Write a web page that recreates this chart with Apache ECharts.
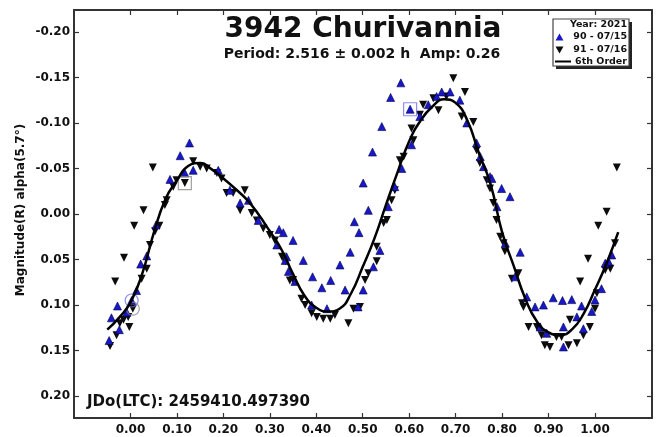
<!DOCTYPE html>
<html>
<head>
<meta charset="utf-8">
<title>3942 Churivannia</title>
<script src="https://cdn.jsdelivr.net/npm/echarts@6/dist/echarts.min.js"></script>
<style>
  html, body { margin: 0; padding: 0; background: #fff; }
  #main { width: 657px; height: 437px; }
</style>
</head>
<body>
<div id="main"></div>
<script>
// tick positions
var xTicks = [0, 0.1, 0.2, 0.3, 0.4, 0.5, 0.6, 0.7, 0.8, 0.9, 1.0];
var yTicks = [-0.2, -0.15, -0.1, -0.05, 0, 0.05, 0.1, 0.15, 0.2];

// session 90 - 07/15 (blue, up triangles)   [phase, mag]
var s90 = [
  [-0.046,0.139],[-0.041,0.114],[-0.028,0.101],[-0.024,0.127],[-0.008,0.108],[0.0025,0.095],
  [0.013,0.084],[0.022,0.055],[0.035,0.046],[0.055,0.012],[0.085,-0.038],[0.107,-0.064],
  [0.127,-0.078],[0.135,-0.048],[0.117,-0.045],[0.189,-0.048],[0.214,-0.026],[0.254,-0.015],
  [0.236,-0.012],[0.275,0.007],[0.315,0.034],[0.32,0.017],[0.336,0.047],[0.34,0.063],
  [0.329,0.0205],[0.35,0.029],[0.372,0.051],[0.392,0.069],[0.412,0.081],[0.431,0.073],
  [0.451,0.056],[0.473,0.042],[0.482,0.0085],[0.492,0.0205],[0.501,-0.034],[0.512,-0.004],
  [0.521,-0.068],[0.541,-0.096],[0.56,-0.128],[0.582,-0.144],[0.602,-0.115],[0.354,0.074],
  [0.333,0.051],[0.39,0.1],[0.423,0.104],[0.462,0.0835],[0.501,0.0835],[0.49,0.102],
  [0.523,0.058],[0.537,0.04],[0.555,-0.008],[0.569,-0.03],[0.584,-0.05],[0.605,-0.076],
  [0.623,-0.107],[0.641,-0.12],[0.659,-0.129],[0.67,-0.134],[0.688,-0.134],[0.709,-0.125],
  [0.724,-0.1],[0.745,-0.078],[0.753,-0.063],[0.76,-0.052],[0.774,-0.041],[0.778,-0.039],
  [0.799,-0.028],[0.817,-0.019],[0.789,-0.008],[0.807,0.032],[0.839,0.042],[0.828,0.069],
  [0.853,0.091],[0.871,0.102],[0.889,0.1],[0.91,0.092],[0.93,0.095],[0.95,0.094],
  [0.971,0.101],[0.961,0.113],[0.932,0.124],[0.896,0.131],[0.882,0.124],[0.932,0.146],
  [0.975,0.126],[0.993,0.107],[1.0,0.0945],[1.014,0.082],[1.022,0.054],[1.029,0.052],[1.036,0.045]
];

// session 91 - 07/16 (black, down triangles)
var s91 = [
  [-0.044,0.145],[-0.03,0.133],[-0.023,0.12],[-0.015,0.116],[-0.0025,0.124],[0.005,0.104],
  [-0.005,0.113],[-0.033,0.074],[-0.014,0.048],[0.008,0.013],[0.028,-0.004],[0.048,-0.051],
  [0.024,0.071],[0.035,0.06],[0.042,0.034],[0.053,0.019],[0.062,0.013],[0.074,-0.01],
  [0.078,-0.015],[0.092,-0.03],[0.099,-0.037],[0.117,-0.034],[0.135,-0.058],[0.15,-0.052],
  [0.164,-0.05],[0.186,-0.045],[0.196,-0.039],[0.207,-0.023],[0.221,-0.023],[0.236,-0.004],
  [0.246,-0.026],[0.261,-0.001],[0.272,0.007],[0.286,0.016],[0.3,0.023],[0.311,0.029],
  [0.326,0.047],[0.333,0.052],[0.343,0.073],[0.35,0.0725],[0.368,0.093],[0.376,0.1],
  [0.39,0.109],[0.401,0.113],[0.415,0.115],[0.43,0.115],[0.44,0.111],[0.469,0.12],
  [0.48,0.104],[0.494,0.102],[0.505,0.0725],[0.512,0.065],[0.53,0.036],[0.53,0.052],
  [0.545,0.01],[0.552,0.0066],[0.562,-0.015],[0.569,-0.026],[0.58,-0.059],[0.588,-0.063],
  [0.605,-0.094],[0.609,-0.081],[0.623,-0.109],[0.63,-0.12],[0.652,-0.127],[0.663,-0.114],
  [0.68,-0.129],[0.695,-0.149],[0.72,-0.134],[0.713,-0.107],[0.738,-0.101],[0.745,-0.07],
  [0.752,-0.056],[0.767,-0.037],[0.774,-0.028],[0.781,-0.012],[0.788,0.0066],[0.796,0.025],
  [0.803,0.032],[0.806,0.041],[0.821,0.071],[0.835,0.065],[0.843,0.098],[0.846,0.102],
  [0.857,0.124],[0.875,0.124],[0.885,0.133],[0.892,0.144],[0.903,0.146],[0.917,0.135],
  [0.928,0.135],[0.943,0.144],[0.946,0.116],[0.961,0.142],[0.975,0.133],[0.989,0.124],
  [1.0,0.104],[1.004,0.087],[1.022,0.0615],[1.033,0.06],[1.043,0.032],[0.968,0.074],
  [0.985,0.049],[1.007,0.013],[1.025,-0.0025],[1.047,-0.051]
];

// 6th order fourier fit
var fitCurve = [
  [-0.05,0.127],[-0.025,0.114],[0.0,0.097],[0.025,0.066],[0.05,0.021],[0.075,-0.016],
  [0.1,-0.037],[0.125,-0.053],[0.15,-0.056],[0.175,-0.049],[0.2,-0.039],[0.225,-0.028],
  [0.25,-0.016],[0.275,0.0],[0.3,0.019],[0.325,0.039],[0.35,0.066],[0.375,0.09],
  [0.4,0.103],[0.425,0.107],[0.45,0.104],[0.475,0.087],[0.5,0.058],[0.525,0.027],
  [0.55,-0.01],[0.575,-0.046],[0.6,-0.08],[0.625,-0.103],[0.65,-0.118],[0.675,-0.126],
  [0.7,-0.122],[0.725,-0.103],[0.75,-0.067],[0.775,-0.033],[0.8,0.02],[0.825,0.057],
  [0.85,0.093],[0.875,0.118],[0.9,0.13],[0.925,0.133],[0.95,0.127],[0.975,0.11],
  [1.0,0.083],[1.025,0.054],[1.05,0.02]
];

// comparison markers
var boxBlack = [[0.117,-0.034]];
var boxBlue = [[0.602,-0.115]];
var ringBlue = [[0.0025,0.095]];
var ringGrey = [[0.005,0.104]];

var fnt = '"DejaVu Sans", sans-serif';
var frame = { show: true, onZero: false, lineStyle: { color: '#333', width: 2 } };

function xAx(pos, labels) {
  return {
    type: 'value', position: pos, min: -0.1216, max: 1.1227,
    axisLine: frame,
    axisTick: { show: true, inside: true, length: 5, customValues: xTicks, lineStyle: { color: '#333', width: 1.2 } },
    axisLabel: { show: labels, customValues: xTicks, margin: 6, color: '#111',
      fontFamily: fnt, fontWeight: 'bold', fontSize: 12,
      formatter: function (v) { return v.toFixed(2); } },
    splitLine: { show: false }
  };
}
function yAx(pos, labels) {
  return {
    type: 'value', position: pos, inverse: true, min: -0.224, max: 0.224,
    axisLine: frame,
    axisTick: { show: true, inside: true, length: 5, customValues: yTicks, lineStyle: { color: '#333', width: 1.2 } },
    axisLabel: { show: labels, customValues: yTicks, margin: 4, color: '#111',
      fontFamily: fnt, fontWeight: 'bold', fontSize: 12,
      formatter: function (v) { return v.toFixed(2); } },
    splitLine: { show: false }
  };
}

var myChart = echarts.init(document.getElementById('main'));
var option = {
  animation: false,
  backgroundColor: '#fff',
  grid: { left: 74, right: 5, top: 10, bottom: 19 },
  xAxis: [xAx('bottom', true), xAx('top', false)],
  yAxis: [yAx('left', true), yAx('right', false)],
  series: [
    { type: 'scatter', name: '91 - 07/16', data: s91, symbol: 'triangle', symbolRotate: 180, symbolSize: 8,
      itemStyle: { color: '#0c0c0c', opacity: 1 } },
    { type: 'scatter', name: '90 - 07/15', data: s90, symbol: 'triangle', symbolSize: 8,
      itemStyle: { color: '#1818c8', borderColor: '#00004a', borderWidth: 0.6, opacity: 1 } },
    { type: 'line', name: '6th Order', data: fitCurve, smooth: true, showSymbol: false,
      lineStyle: { color: '#000', width: 2.5 } },
    { type: 'scatter', data: boxBlack, symbol: 'rect', symbolSize: 13,
      itemStyle: { color: 'rgba(0,0,0,0)', borderColor: '#888', borderWidth: 1.2 } },
    { type: 'scatter', data: boxBlue, symbol: 'rect', symbolSize: 13,
      itemStyle: { color: 'rgba(0,0,0,0)', borderColor: '#7070f0', borderWidth: 1.2 } },
    { type: 'scatter', data: ringBlue, symbol: 'circle', symbolSize: 13,
      itemStyle: { color: 'rgba(0,0,0,0)', borderColor: '#7070e0', borderWidth: 1.2 } },
    { type: 'scatter', data: ringGrey, symbol: 'circle', symbolSize: 13,
      itemStyle: { color: 'rgba(0,0,0,0)', borderColor: '#888', borderWidth: 1.2 } }
  ],
  graphic: [
    { type: 'text', x: 363, y: 29.5, style: { text: '3942 Churivannia', font: 'bold 28px ' + fnt, fill: '#111', align: 'center', verticalAlign: 'middle' } },
    { type: 'text', x: 362, y: 54, style: { text: 'Period: 2.516 \u00b1 0.002 h  Amp: 0.26', font: 'bold 14px ' + fnt, fill: '#111', align: 'center', verticalAlign: 'middle' } },
    { type: 'text', x: 87, y: 402, style: { text: 'JDo(LTC): 2459410.497390', font: 'bold 15px ' + fnt, fill: '#111', align: 'left', verticalAlign: 'middle' } },
    { type: 'text', x: 21, y: 210, rotation: Math.PI / 2, style: { text: 'Magnitude(R) alpha(5.7\u00b0)', font: 'bold 12px ' + fnt, fill: '#111', align: 'center', verticalAlign: 'middle' } },
    // legend box
    { type: 'rect', shape: { x: 556, y: 22, width: 76, height: 47 }, style: { fill: '#222' }, z: 10 },
    { type: 'rect', shape: { x: 553, y: 19, width: 76, height: 47 }, style: { fill: '#fff', stroke: '#444', lineWidth: 1.2 }, z: 11 },
    { type: 'text', x: 627, y: 25, z: 12, style: { text: 'Year: 2021', font: 'bold 9.5px ' + fnt, fill: '#111', align: 'right', verticalAlign: 'middle' } },
    { type: 'text', x: 627, y: 37, z: 12, style: { text: '90 - 07/15', font: 'bold 9.5px ' + fnt, fill: '#111', align: 'right', verticalAlign: 'middle' } },
    { type: 'text', x: 627, y: 49.5, z: 12, style: { text: '91 - 07/16', font: 'bold 9.5px ' + fnt, fill: '#111', align: 'right', verticalAlign: 'middle' } },
    { type: 'text', x: 627, y: 61.5, z: 12, style: { text: '6th Order', font: 'bold 9.5px ' + fnt, fill: '#111', align: 'right', verticalAlign: 'middle' } },
    { type: 'polygon', z: 12, shape: { points: [[559.5, 33.5], [563.5, 40.5], [555.5, 40.5]] }, style: { fill: '#1818c8' } },
    { type: 'polygon', z: 12, shape: { points: [[555.5, 46.5], [563.5, 46.5], [559.5, 53.5]] }, style: { fill: '#0c0c0c' } },
    { type: 'line', z: 12, shape: { x1: 555, y1: 61.5, x2: 571, y2: 61.5 }, style: { stroke: '#000', lineWidth: 2 } }
  ]
};
myChart.setOption(option);
</script>
</body>
</html>
